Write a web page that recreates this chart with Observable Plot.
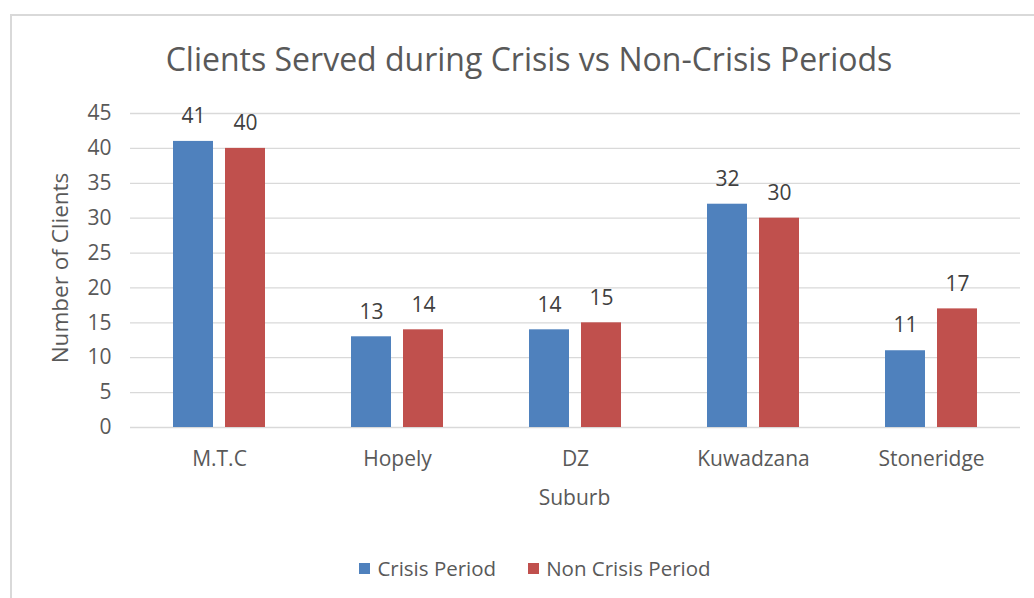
<!DOCTYPE html>
<html>
<head>
<meta charset="utf-8">
<script src="https://cdn.jsdelivr.net/npm/d3@7"></script>
<script src="https://cdn.jsdelivr.net/npm/@observablehq/plot@0.6"></script>
<style>
  body { margin: 0; background: #fff; font-family: "Open Sans", sans-serif; }
  #frame { position: absolute; left: 10px; top: 14px; width: 1030px; height: 590px; border: 2px solid #d9d9d9; box-sizing: border-box; }
  #title { position: absolute; left: 0; width: 1058px; top: 37px; text-align: center; font-size: 32px; line-height: 44px; color: #595959; white-space: nowrap; }
  #chart { position: absolute; left: 0; top: 90px; }
  #legend { position: absolute; top: 553px; left: 18px; width: 1034px; display: flex; justify-content: center; font-size: 20.5px; line-height: 30px; color: #595959; }
  .item { display: flex; align-items: center; margin: 0 16px; }
  .sw { width: 11px; height: 11px; margin-right: 7px; }
</style>
</head>
<body>
<div id="frame"></div>
<div id="title">Clients Served during Crisis vs Non-Crisis Periods</div>
<div id="chart"></div>
<div id="legend"></div>
<script>
const suburbs = ["M.T.C", "Hopely", "DZ", "Kuwadzana", "Stoneridge"];
const seriesNames = ["Crisis Period", "Non Crisis Period"];
const crisis = [41, 13, 14, 32, 11];
const nonCrisis = [40, 14, 15, 30, 17];
const colors = ["#4f81bd", "#c0504d"];
const yTicks = [0, 5, 10, 15, 20, 25, 30, 35, 40, 45];

const rows = [];
suburbs.forEach((s, i) => {
  rows.push({suburb: s, series: seriesNames[0], value: crisis[i]});
  rows.push({suburb: s, series: seriesNames[1], value: nonCrisis[i]});
});

const W = 1034, H = 430, ML = 129, MR = 14, MT = 23, MB = 93;

const plot = Plot.plot({
  width: W,
  height: H,
  marginLeft: ML,
  marginRight: MR,
  marginTop: MT,
  marginBottom: MB,
  style: { fontFamily: "Open Sans, sans-serif", color: "#595959", background: "transparent" },
  fx: { domain: suburbs, padding: 0, label: null, axis: null },
  x: { domain: seriesNames, paddingInner: 0.231, paddingOuter: 0.825, axis: null },
  y: { domain: [0, 45], ticks: yTicks, label: null, axis: null },
  color: { domain: seriesNames, range: colors },
  marks: [
    Plot.ruleY(yTicks, { stroke: "#d9d9d9", strokeWidth: 1.3 }),
    Plot.barY(rows, { fx: "suburb", x: "series", y: "value", fill: "series" }),
    Plot.text(rows, { fx: "suburb", x: "series", y: "value", text: d => String(d.value), dy: -25, fontSize: 21, fill: "#404040" }),
    Plot.axisY({ ticks: yTicks, tickSize: 0, tickPadding: 19, fontSize: 21, label: null }),
    Plot.axisFx({ anchor: "bottom", tickSize: 0, tickPadding: 24, fontSize: 21, label: null })
  ]
});
document.getElementById("chart").appendChild(plot);

const svg = d3.select(plot);
// x axis title
svg.append("text")
  .attr("x", (ML + (W - MR)) / 2)
  .attr("y", 409)
  .attr("text-anchor", "middle")
  .attr("dominant-baseline", "middle")
  .attr("font-size", 21)
  .attr("fill", "#595959")
  .text("Suburb");
// y axis title
svg.append("text")
  .attr("transform", "translate(62,178) rotate(-90)")
  .attr("text-anchor", "middle")
  .attr("dominant-baseline", "middle")
  .attr("font-size", 22.5)
  .attr("fill", "#595959")
  .text("Number of Clients");

const legend = document.getElementById("legend");
seriesNames.forEach((n, i) => {
  const it = document.createElement("div");
  it.className = "item";
  const sw = document.createElement("div");
  sw.className = "sw";
  sw.style.background = colors[i];
  const t = document.createElement("span");
  t.textContent = n;
  it.appendChild(sw); it.appendChild(t);
  legend.appendChild(it);
});
</script>
</body>
</html>
